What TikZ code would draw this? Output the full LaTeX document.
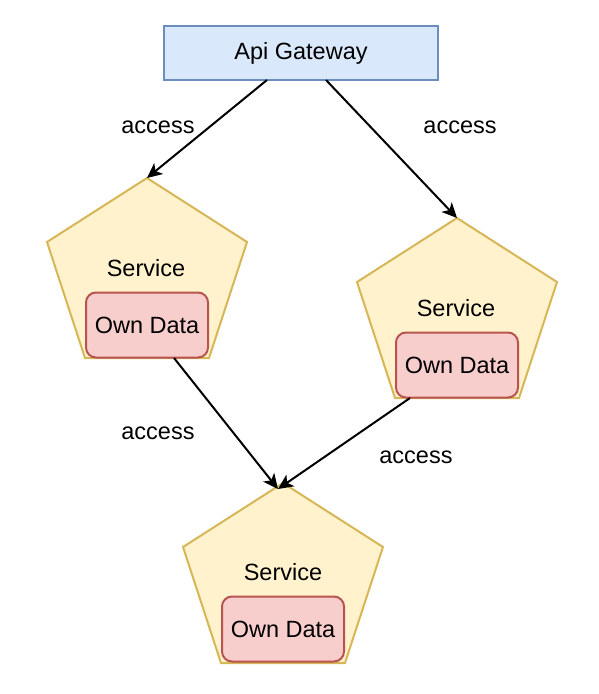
\documentclass[tikz,border=0pt]{standalone}
\usepackage{fontspec}
\setmainfont{Liberation Sans}
\usetikzlibrary{arrows.meta}
\definecolor{gwfill}{HTML}{DAE8FC}
\definecolor{gwline}{HTML}{6C8EBF}
\definecolor{svfill}{HTML}{FFF2CC}
\definecolor{svline}{HTML}{D6B656}
\definecolor{dbfill}{HTML}{F8CECC}
\definecolor{dbline}{HTML}{B85450}
\tikzset{
  txt/.style={font=\fontsize{23.5}{28}\selectfont, inner sep=0pt},
  gwbox/.style={draw=gwline, fill=gwfill, line width=2pt, minimum width=274pt, minimum height=54pt, inner sep=0pt, font=\fontsize{23.5}{28}\selectfont},
  databox/.style={draw=dbline, fill=dbfill, line width=2pt, rounded corners=10pt, minimum width=122pt, minimum height=65pt, inner sep=0pt, font=\fontsize{23.5}{28}\selectfont},
  penta/.style={draw=svline, fill=svfill, line width=2pt, line join=miter},
  conn/.style={draw=black, line width=2pt, -{Stealth[length=15pt, width=14pt, inset=4pt]}},
}
\newcommand{\servicepent}[3]{% name, top x, top y
  \path[penta] (#2,#3) -- (#2+100,#3+64) -- (#2+62,#3+180) -- (#2-62,#3+180) -- (#2-100,#3+64) -- cycle;
  \coordinate (#1top) at (#2,#3);
}
\begin{document}
\begin{tikzpicture}[x=1pt,y=-1pt]
\useasboundingbox (0,0) rectangle (598,694);

\node[gwbox] (gw) at (301,53) {Api Gateway};
\coordinate (gwl) at (267,80);
\coordinate (gwr) at (326,80);

\servicepent{s1}{147}{178}
\node[txt] (s1lbl) at (146,268) {Service};
\node[databox] (d1) at (147,325) {Own Data};

\servicepent{s2}{457}{218}
\node[txt] (s2lbl) at (456,308) {Service};
\node[databox] (d2) at (457,365) {Own Data};

\servicepent{s3}{283}{483}
\node[txt] (s3lbl) at (283,572) {Service};
\node[databox] (d3) at (283,629) {Own Data};

\coordinate (d1out) at (174,358);
\coordinate (d2out) at (410,398);
\coordinate (s3in) at (278,489);

\draw[conn] (gwl) -- (s1top);
\draw[conn] (gwr) -- (s2top);
\draw[conn] (d1out) -- (s3in);
\draw[conn] (d2out) -- (s3in);

\node[txt] (a1) at (158,127) {access};
\node[txt] (a2) at (460,127) {access};
\node[txt] (a3) at (158,433) {access};
\node[txt] (a4) at (416,457) {access};
\end{tikzpicture}
\end{document}
